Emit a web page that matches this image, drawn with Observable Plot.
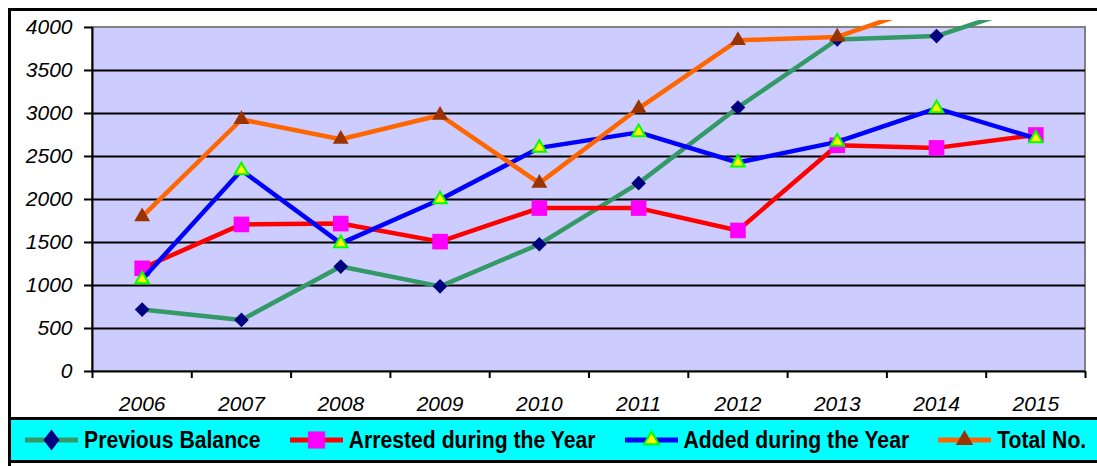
<!DOCTYPE html>
<html><head><meta charset="utf-8">
<script src="https://cdn.jsdelivr.net/npm/d3@7"></script>
<script src="https://cdn.jsdelivr.net/npm/@observablehq/plot@0.6"></script>
<style>
body{margin:0;background:#fff;width:1097px;height:466px;overflow:hidden;position:relative;font-family:Arial,"Liberation Sans",sans-serif;}
#chart{position:absolute;left:0;top:0;}
#frame{position:absolute;left:8px;top:8px;width:1200px;height:1000px;border:3px solid #000;pointer-events:none;}
#legend{position:absolute;left:8px;top:417px;width:1200px;height:40px;background:#00FFFF;border-top:3px solid #000;border-bottom:3px solid #000;display:flex;align-items:center;padding-left:17px;}
.item{display:flex;align-items:center;margin-right:29px;}
.item svg{display:block;margin-right:6px;}
.item span{display:inline-block;font-weight:bold;font-size:21.2px;color:#000;transform:scaleY(1.12);white-space:nowrap;line-height:24px;}
</style></head><body>
<div id="chart"></div><div id="legend"></div><div id="frame"></div>
<script>
const years = ["2006","2007","2008","2009","2010","2011","2012","2013","2014","2015"];
const previousBalance = [720, 600, 1220, 990, 1480, 2190, 3070, 3860, 3900, 4280];
const arrested        = [1200, 1710, 1720, 1510, 1900, 1900, 1640, 2630, 2600, 2750];
const added           = [1070, 2340, 1490, 2000, 2600, 2780, 2430, 2670, 3060, 2710];
const total           = [1800, 2930, 2700, 2980, 2190, 3060, 3850, 3890, 4290, 4500];
const yTicks = [0, 500, 1000, 1500, 2000, 2500, 3000, 3500, 4000];
const seriesNames = ["Previous Balance", "Arrested during the Year", "Added during the Year", "Total No."];

const series = [
  {name: seriesNames[0], values: previousBalance, line: "#339966", symbol: "diamond2", fill: "#000080", stroke: "none", r: 6.6, sw: 0},
  {name: seriesNames[1], values: arrested, line: "#FF0000", symbol: "square", fill: "#FF00FF", stroke: "none", r: 8.8, sw: 0},
  {name: seriesNames[2], values: added, line: "#0000FF", symbol: "triangle", fill: "#FFFF00", stroke: "#00FF00", r: 5.0, sw: 2},
  {name: seriesNames[3], values: total, line: "#FF6600", symbol: "triangle", fill: "#993300", stroke: "none", r: 5.9, sw: 0}
];

const idx = years.map((_, i) => i);
const xDomain = [-0.5, years.length - 0.5];
const yMax = d3.max(yTicks);
const boundaries = d3.range(years.length + 1).map(i => i - 0.5);

const marks = [
  Plot.rect([yMax], {x1: () => xDomain[0], x2: () => xDomain[1], y1: () => 0, y2: d => d, fill: "#CCCCFF", stroke: "#808080", strokeWidth: 2}),
  Plot.ruleY(yTicks.filter(t => t > 0 && t < yMax), {x1: () => xDomain[0], x2: () => xDomain[1], stroke: "#000", strokeWidth: 2}),
  Plot.ruleY([0], {x1: () => xDomain[0], x2: () => xDomain[1], stroke: "#000", strokeWidth: 2}),
  Plot.ruleX([xDomain[0]], {y1: () => 0, y2: () => yMax, stroke: "#000", strokeWidth: 2}),
  Plot.axisY(yTicks, {tickSize: 8, tickPadding: 12, tickFormat: d => String(d), fontSize: 21, strokeWidth: 2}),
  Plot.axisX(boundaries, {tickSize: 7, tickFormat: () => "", strokeWidth: 2}),
  Plot.axisX(idx, {tickSize: 0, tickPadding: 25, tickFormat: i => years[i], fontSize: 21})
];
for (const s of series) {
  marks.push(Plot.line(idx, {x: i => i, y: i => s.values[i], stroke: s.line, strokeWidth: 4.5, strokeLinejoin: "round", clip: true}));
  marks.push(Plot.dot(idx, {x: i => i, y: i => s.values[i], symbol: s.symbol, fill: s.fill, stroke: s.stroke, strokeWidth: s.sw, r: s.r, clip: true}));
}

const plot = Plot.plot({
  width: 1097, height: 418,
  marginLeft: 92, marginRight: 12, marginTop: 20, marginBottom: 47,
  x: {domain: xDomain},
  y: {domain: [0, 4081]},
  style: {fontFamily: 'Arial, "Liberation Sans", sans-serif', fontStyle: "italic", fontSize: "21px", background: "#fff", color: "#000", overflow: "visible"},
  marks
});
document.getElementById("chart").appendChild(plot);

// legend
const legend = d3.select("#legend");
const symbolMap = {diamond2: d3.symbolDiamond2, square: d3.symbolSquare, triangle: d3.symbolTriangle};
for (const s of series) {
  const item = legend.append("div").attr("class", "item");
  const svg = item.append("svg").attr("width", 53).attr("height", 26);
  svg.append("line").attr("x1", 0).attr("x2", 53).attr("y1", 13).attr("y2", 13).attr("stroke", s.line).attr("stroke-width", 5);
  const size = Math.PI * (s.r * 1.1) ** 2;
  svg.append("path").attr("transform", s.symbol === "diamond2" ? "translate(26.5,13) scale(1,1.3)" : "translate(26.5,13)")
    .attr("d", d3.symbol(symbolMap[s.symbol], size)())
    .attr("fill", s.fill).attr("stroke", s.stroke).attr("stroke-width", s.sw);
  item.append("span").text(s.name);
}
</script>
</body></html>
